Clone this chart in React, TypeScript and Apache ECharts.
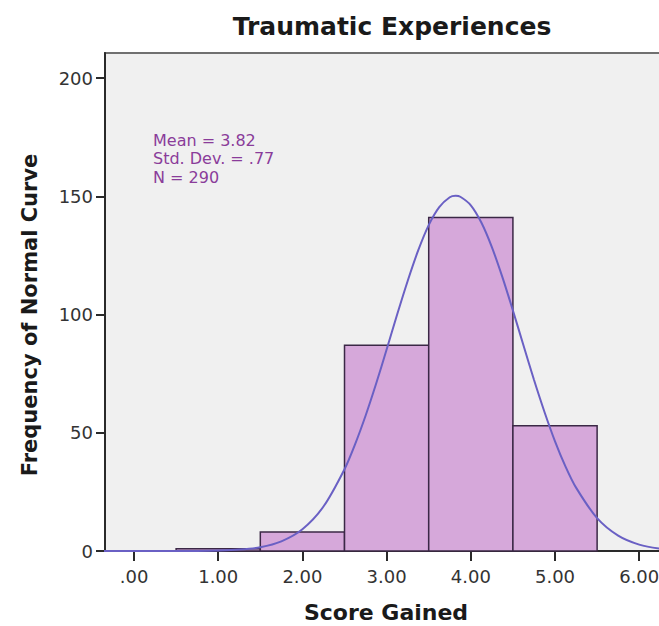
import React, { useEffect, useRef } from "react";
import * as echarts from "echarts";

// Histogram bins: [start, end, count]
const binStarts = [0.5, 1.5, 2.5, 3.5, 4.5];
const binEnds = [1.5, 2.5, 3.5, 4.5, 5.5];
const binCounts = [1, 8, 87, 141, 53];

// Normal curve (x, frequency)
const curveX = [-0.5, -0.25, 0, 0.25, 0.5, 0.75, 1, 1.25, 1.5, 1.75, 2, 2.25, 2.5, 2.625, 2.75, 2.875, 3, 3.125, 3.25, 3.375, 3.5, 3.625, 3.75, 3.82, 3.875, 4, 4.125, 4.25, 4.375, 4.5, 4.625, 4.75, 4.875, 5, 5.125, 5.25, 5.5, 5.75, 6, 6.25, 6.5];
const curveY = [0, 0, 0, 0, 0.01, 0.05, 0.2, 0.6, 1.6, 4.1, 9.2, 18.8, 34.6, 45.1, 57.2, 70.7, 85.2, 100, 114.2, 127.1, 137.8, 145.4, 149.6, 150.2, 149.8, 146.2, 138.9, 128.5, 115.8, 101.7, 87.0, 72.4, 58.8, 46.4, 35.7, 26.8, 13.9, 6.5, 2.7, 1.0, 0.35];

const xTickValues = [0, 1, 2, 3, 4, 5, 6];
const statLines = ["Mean = 3.82", "Std. Dev. = .77", "N = 290"];

const titleText = "Traumatic Experiences";
const xName = "Score Gained";
const yName = "Frequency of Normal Curve";

const FONT = "DejaVu Sans";

export default function App() {
  const ref = useRef<HTMLDivElement>(null);
  useEffect(() => {
    document.body.style.margin = "0";
    const chart = echarts.init(ref.current!, undefined, { renderer: "svg" });
    const bins = binStarts.map((s, i) => [s, binEnds[i], binCounts[i]]);
    const curve = curveX.map((x, i) => [x, curveY[i]]);
    const statGraphics = statLines.map((t, i) => ({
      type: "text",
      left: 153,
      top: 132 + i * 18.5,
      style: {
        text: t,
        fontFamily: FONT,
        fontSize: 16,
        fill: "#8a3c9a",
      },
    }));
    chart.setOption({
      animation: false,
      backgroundColor: "#ffffff",
      title: {
        text: titleText,
        left: 387,
        top: 9,
        textAlign: "center",
        textStyle: { fontFamily: FONT, fontSize: 25, fontWeight: "bold", color: "#1a1a1a" },
      },
      grid: {
        left: 105,
        top: 53,
        bottom: 75,
        right: 700 - 667,
        outerBoundsMode: "none",
        containLabel: false,
        show: true,
        backgroundColor: "#f0f0f0",
        borderColor: "#707070",
        borderWidth: 2,
      },
      xAxis: {
        type: "value",
        min: -0.3446,
        max: 6.33,
        name: xName,
        nameLocation: "middle",
        nameGap: 50,
        nameTextStyle: { fontFamily: FONT, fontSize: 22, fontWeight: "bold", color: "#1a1a1a" },
        splitLine: { show: false },
        axisLine: { onZero: false, lineStyle: { color: "#2a2a2a", width: 2 } },
        axisTick: { customValues: xTickValues, length: 10, lineStyle: { color: "#2a2a2a", width: 2 } },
        axisLabel: {
          customValues: xTickValues,
          margin: 16,
          fontFamily: FONT,
          fontSize: 18,
          color: "#333333",
          formatter: (v: number) => (v === 0 ? ".00" : v.toFixed(2)),
        },
      },
      yAxis: {
        type: "value",
        min: 0,
        max: 210.6,
        interval: 50,
        splitLine: { show: false },
        axisLine: { show: true, onZero: false, lineStyle: { color: "#2a2a2a", width: 2 } },
        axisTick: { show: true, length: 9, lineStyle: { color: "#2a2a2a", width: 2 } },
        axisLabel: { margin: 12, fontFamily: FONT, fontSize: 18, color: "#333333", showMaxLabel: false },
      },
      graphic: [
        ...statGraphics,
        {
          type: "text",
          x: 30,
          y: 315,
          rotation: Math.PI / 2,
          style: {
            text: yName,
            fontFamily: FONT,
            fontSize: 21,
            fontWeight: "bold",
            fill: "#1a1a1a",
            align: "center",
            verticalAlign: "middle",
          },
        },
      ],
      series: [
        {
          type: "custom",
          data: bins,
          encode: { x: [0, 1], y: 2 },
          renderItem: (params: any, api: any) => {
            const x0 = api.value(0);
            const x1 = api.value(1);
            const h = api.value(2);
            const p0 = api.coord([x0, h]);
            const p1 = api.coord([x1, 0]);
            return {
              type: "rect",
              shape: { x: p0[0], y: p0[1], width: p1[0] - p0[0], height: p1[1] - p0[1] },
              style: { fill: "#d6a8da", stroke: "#3b2846", lineWidth: 1.5 },
            };
          },
        },
        {
          type: "line",
          data: curve,
          smooth: 0.3,
          showSymbol: false,
          symbol: "none",
          clip: true,
          lineStyle: { color: "#6a60c4", width: 2 },
        },
      ],
    });
    return () => chart.dispose();
  }, []);
  return (
    <div style={{ position: "absolute", left: 0, top: 0, width: 659, height: 626, overflow: "hidden" }}>
      <div ref={ref} style={{ width: 700, height: 626 }} />
    </div>
  );
}
